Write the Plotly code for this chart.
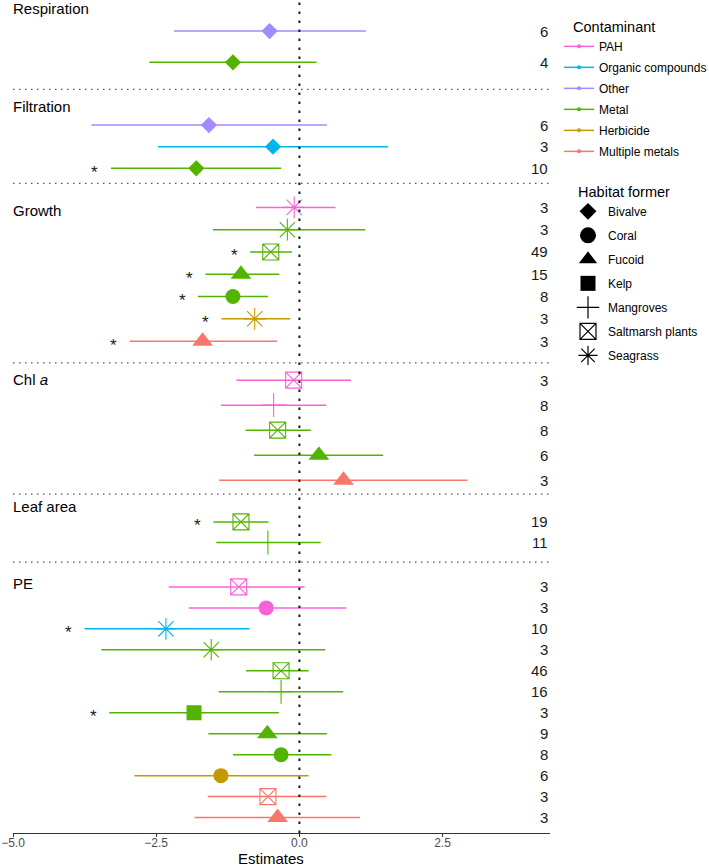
import plotly.graph_objects as go
from plotly.subplots import make_subplots

# ---------------- data ----------------
groups = ["Respiration", "Filtration", "Growth", "Chl <i>a</i>", "Leaf area", "PE"]

row_group = [0, 0,
             1, 1, 1,
             2, 2, 2, 2, 2, 2, 2,
             3, 3, 3, 3, 3,
             4, 4,
             5, 5, 5, 5, 5, 5, 5, 5, 5, 5, 5, 5]

contaminant = ["Other", "Metal",
               "Other", "Organic compounds", "Metal",
               "PAH", "Metal", "Metal", "Metal", "Metal", "Herbicide", "Multiple metals",
               "PAH", "PAH", "Metal", "Metal", "Multiple metals",
               "Metal", "Metal",
               "PAH", "PAH", "Organic compounds", "Metal", "Metal", "Metal", "Metal",
               "Metal", "Metal", "Herbicide", "Multiple metals", "Multiple metals"]

habitat = ["Bivalve", "Bivalve",
           "Bivalve", "Bivalve", "Bivalve",
           "Seagrass", "Seagrass", "Saltmarsh plants", "Fucoid", "Coral", "Seagrass", "Fucoid",
           "Saltmarsh plants", "Mangroves", "Saltmarsh plants", "Fucoid", "Fucoid",
           "Saltmarsh plants", "Mangroves",
           "Saltmarsh plants", "Coral", "Seagrass", "Seagrass", "Saltmarsh plants", "Mangroves", "Kelp",
           "Fucoid", "Coral", "Coral", "Saltmarsh plants", "Fucoid"]

estimate = [-0.52, -1.16,
            -1.58, -0.46, -1.80,
            -0.09, -0.21, -0.50, -1.02, -1.16, -0.78, -1.69,
            -0.10, -0.45, -0.38, 0.34, 0.77,
            -1.02, -0.55,
            -1.06, -0.58, -2.33, -1.54, -0.32, -0.32, -1.84,
            -0.56, -0.32, -1.37, -0.55, -0.38]

ci_low = [-2.19, -2.62,
          -3.63, -2.47, -3.29,
          -0.76, -1.51, -0.86, -1.64, -1.77, -1.36, -2.96,
          -1.10, -1.37, -0.94, -0.79, -1.40,
          -1.50, -1.45,
          -2.28, -1.93, -3.75, -3.46, -0.93, -1.41, -3.32,
          -1.59, -1.16, -2.88, -1.60, -1.83]

ci_high = [1.16, 0.30,
           0.48, 1.55, -0.32,
           0.63, 1.15, -0.13, -0.35, -0.55, -0.16, -0.39,
           0.90, 0.47, 0.20, 1.46, 2.93,
           -0.54, 0.37,
           0.09, 0.82, -0.87, 0.45, 0.16, 0.76, -0.36,
           0.48, 0.56, 0.16, 0.47, 1.06]

n_studies = [6, 4,
             6, 3, 10,
             3, 3, 49, 15, 8, 3, 3,
             3, 8, 8, 6, 3,
             19, 11,
             3, 3, 10, 3, 46, 16, 3, 9, 8, 6, 3, 3]

significant = [0, 0,
               0, 0, 1,
               0, 0, 1, 1, 1, 1, 1,
               0, 0, 0, 0, 0,
               1, 0,
               0, 0, 1, 0, 0, 0, 1, 0, 0, 0, 0, 0]

contaminant_order = ["PAH", "Organic compounds", "Other", "Metal", "Herbicide", "Multiple metals"]
habitat_order = ["Bivalve", "Coral", "Fucoid", "Kelp", "Mangroves", "Saltmarsh plants", "Seagrass"]

x_ticks = [-5, -2.5, 0, 2.5]
x_tick_labels = ["\u22125.0", "\u22122.5", "0.0", "2.5"]

# ---------------- styles ----------------
colors = {"PAH": "#FB61D7", "Organic compounds": "#00B6EB", "Other": "#A58AFF",
          "Metal": "#53B400", "Herbicide": "#C49A00", "Multiple metals": "#F8766D"}
symbols = {"Bivalve": ("diamond", 12.5, False), "Coral": ("circle", 15, False),
           "Fucoid": ("triangle-up", 18, False), "Kelp": ("square", 15, False),
           "Mangroves": ("cross-thin-open", 17, True),
           "Saltmarsh plants": ("square-x-open", 16, True),
           "Seagrass": ("asterisk-open", 18, True)}
legend_sizes = {"Bivalve": 13, "Coral": 16, "Fucoid": 16, "Kelp": 15,
                "Mangroves": 16, "Saltmarsh plants": 16, "Seagrass": 16}

FONT = "Liberation Sans, Arial, sans-serif"
W, H = 709, 867
ML, MR, MT, MB = 13, 159, 0, 34
panel_px = [89.3, 94.0, 179.4, 131.3, 68.0, 270.7]
pad_top = [31, 35.7, 24, 17.3, 27.7, 24.7]
pad_bot = [27, 15, 21.7, 14, 19.7, 15.4]
title_off = [8, 17.5, 27, 17, 12.7, 21.5]
XR = [-5, 4.375]

fig = make_subplots(rows=6, cols=1, shared_xaxes=True, vertical_spacing=0,
                    row_heights=panel_px)

annotations = []
row_in_group = {}
counts = [row_group.count(g) for g in range(len(groups))]
for i in range(len(estimate)):
    g = row_group[i]
    idx = row_in_group.get(g, 0)
    row_in_group[g] = idx + 1
    yv = -idx
    sym, size, is_open = symbols[habitat[i]]
    col = colors[contaminant[i]]
    marker = dict(symbol=sym, size=size, color=col,
                  line=dict(color=col, width=1.1 if is_open else 0))
    fig.add_trace(go.Scatter(
        x=[estimate[i]], y=[yv], mode="markers", marker=marker, showlegend=False,
        error_x=dict(type="data", symmetric=False,
                     array=[ci_high[i] - estimate[i]],
                     arrayminus=[estimate[i] - ci_low[i]],
                     color=col, thickness=1.5, width=0),
        hoverinfo="skip"), row=g + 1, col=1)
    ysuf = "" if g == 0 else str(g + 1)
    annotations.append(dict(xref="paper", yref="y" + ysuf, x=1, y=yv, xanchor="right",
                            yanchor="middle", text=str(n_studies[i]), showarrow=False,
                            font=dict(family=FONT, size=15, color="#1a1a1a")))
    if significant[i]:
        annotations.append(dict(xref="x" + ysuf, yref="y" + ysuf, x=ci_low[i], y=yv,
                                xanchor="center", yanchor="middle", xshift=-16, yshift=-4,
                                text="*", showarrow=False,
                                font=dict(family=FONT, size=17, color="#1a1a1a")))

# y ranges per panel
for g in range(len(groups)):
    n = counts[g]
    s = (panel_px[g] - pad_top[g] - pad_bot[g]) / (n - 1)
    fig.update_yaxes(range=[-(n - 1) - pad_bot[g] / s, pad_top[g] / s], visible=False,
                     showgrid=False, zeroline=False, row=g + 1, col=1)
    ysuf = "" if g == 0 else str(g + 1)
    annotations.append(dict(xref="paper", yref="y" + ysuf + " domain", x=0, y=1,
                            xanchor="left", yanchor="middle", xshift=-2, yshift=-title_off[g],
                            text=groups[g], showarrow=False,
                            font=dict(family=FONT, size=15, color="#000000")))

fig.update_xaxes(range=XR, showgrid=False, zeroline=False, showline=False,
                 showticklabels=False, ticks="")
fig.update_xaxes(row=6, col=1, showline=True, linecolor="#333333", linewidth=1,
                 ticks="outside", ticklen=3, tickcolor="#333333", tickwidth=1,
                 showticklabels=True, tickvals=x_ticks, ticktext=x_tick_labels,
                 ticklabelstandoff=-4,
                 tickfont=dict(family=FONT, size=12, color="#4D4D4D"))

annotations.append(dict(xref="paper", yref="paper", x=(271 - ML) / (W - ML - MR), y=0,
                        xanchor="center", yanchor="middle", yshift=-25, text="Estimates",
                        showarrow=False, font=dict(family=FONT, size=15, color="#000000")))

shapes = [dict(type="line", xref="x", yref="paper", x0=0, x1=0, y0=0, y1=1,
               line=dict(color="#1a1a1a", width=2, dash="2.5px,6.5px"), layer="above")]
for g in range(1, len(groups)):
    ysuf = "" if g == 0 else str(g + 1)
    shapes.append(dict(type="line", xref="paper", yref="y" + ysuf + " domain",
                       x0=0, x1=1, y0=1, y1=1,
                       line=dict(color="#555555", width=1.2, dash="1.5px,4.5px")))

# legend dummies
for c in contaminant_order:
    fig.add_trace(go.Scatter(x=[None], y=[None], mode="lines+markers", name=c,
                             line=dict(color=colors[c], width=1.5),
                             marker=dict(color=colors[c], size=4),
                             legend="legend", legendgroup="c_" + c), row=1, col=1)
for h in habitat_order:
    sym, size, is_open = symbols[h]
    fig.add_trace(go.Scatter(x=[None], y=[None], mode="markers", name=h,
                             marker=dict(symbol=sym, size=legend_sizes[h], color="#000000",
                                         line=dict(color="#000000", width=1.2 if is_open else 0)),
                             legend="legend2", legendgroup="h_" + h), row=1, col=1)

pw = W - ML - MR
ph = H - MT - MB
NB = "\u00a0"
fig.update_layout(
    width=W, height=H, margin=dict(l=ML, r=MR, t=MT, b=MB, autoexpand=False),
    paper_bgcolor="white", plot_bgcolor="white",
    font=dict(family=FONT, color="#000000"),
    annotations=annotations, shapes=shapes,
    legend=dict(title=dict(text=NB * 3 + "Contaminant", font=dict(size=14.5, family=FONT)),
                x=(559 - ML) / pw, y=1 - 13 / ph, xanchor="left", yanchor="top",
                font=dict(size=12, family=FONT), tracegroupgap=2,
                bgcolor="rgba(0,0,0,0)"),
    legend2=dict(title=dict(text=NB * 2 + "Habitat former", font=dict(size=14.5, family=FONT)),
                 x=(568 - ML) / pw, y=1 - 178 / ph, xanchor="left", yanchor="top",
                 font=dict(size=12, family=FONT), tracegroupgap=5,
                 bgcolor="rgba(0,0,0,0)"),
)

fig.write_html("out.html", config={"displayModeBar": False},
               post_script="document.body.style.margin='0';")
